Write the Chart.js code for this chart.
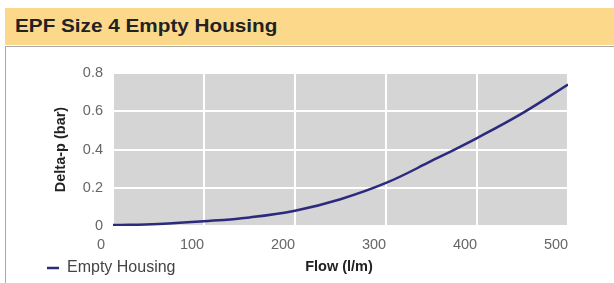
<!DOCTYPE html>
<html>
<head>
<meta charset="utf-8">
<script src="https://cdn.jsdelivr.net/npm/chart.js@4"></script>
<style>
  body { margin: 0; background: #fff; width: 614px; height: 283px; overflow: hidden; position: relative; font-family: "Liberation Sans", Arial, sans-serif; }
  #titleBar { position: absolute; left: 5px; top: 8px; width: 609px; height: 37px; background: #fcd98a; }
  #titleBar span { position: absolute; left: 10px; top: 7px; font-size: 19px; font-weight: bold; color: #222; transform: scaleX(1.09); transform-origin: left center; white-space: nowrap; }
  #panel { position: absolute; left: 5px; top: 46px; width: 620px; height: 250px; border: 1px solid #a9a9a9; background: #fff; }
  #wrap { position: absolute; left: 6px; top: 51px; width: 608px; height: 235px; }
</style>
</head>
<body>
<div id="titleBar"><span>EPF Size 4 Empty Housing</span></div>
<div id="panel"></div>
<div id="wrap"><canvas id="lineGraph"></canvas></div>
<script>
// flow vs pressure drop
let flowValues = [0, 50, 100, 150, 200, 250, 300, 350, 400, 450, 500];
let deltaPValues = [0.005, 0.011, 0.025, 0.045, 0.08, 0.14, 0.225, 0.34, 0.46, 0.59, 0.74];
let xTickValues = [0, 100, 200, 300, 400, 500];
let yTickValues = [0, 0.2, 0.4, 0.6, 0.8];
let seriesName = 'Empty Housing';

const fontFamily = '"Liberation Sans", Arial, sans-serif';

const plotBackground = {
    id: 'plotBackground',
    afterLayout(chart) {
        // push the legend in from the left edge
        chart.legend.left += 37;
    },
    beforeDraw(chart) {
        const a = chart.chartArea;
        const ctx = chart.ctx;
        ctx.save();
        ctx.fillStyle = '#d5d5d5';
        ctx.fillRect(a.left, a.top, a.right - a.left, a.bottom - a.top);
        ctx.restore();
    },
    afterDraw(chart) {
        // x title sits on the same row as the legend item
        const ctx = chart.ctx;
        const hb = chart.legend.legendHitBoxes[0];
        ctx.save();
        ctx.font = 'bold 14.5px ' + fontFamily;
        ctx.fillStyle = '#222';
        ctx.textAlign = 'center';
        ctx.textBaseline = 'middle';
        ctx.fillText('Flow (l/m)', 339 - 6, hb.top + hb.height / 2 - 1);
        ctx.restore();
    }
};

const lineCtx = document.getElementById('lineGraph').getContext('2d');
let lineChartInst = new Chart(lineCtx, {
    type: 'line',
    data: {
        datasets: [{
            label: seriesName,
            data: flowValues.map((f, i) => ({ x: f, y: deltaPValues[i] })),
            borderColor: '#2c2a7c',
            backgroundColor: '#2c2a7c',
            borderWidth: 2.5,
            pointRadius: 0,
            fill: false,
            tension: 0.4
        }]
    },
    options: {
        responsive: true,
        maintainAspectRatio: false,
        animation: false,
        layout: { padding: { left: 0, right: 46, top: 22, bottom: 0 } },
        plugins: {
            tooltip: { enabled: false },
            legend: {
                position: 'bottom',
                align: 'start',
                labels: {
                    usePointStyle: true,
                    pointStyle: 'line',
                    pointStyleWidth: 12,
                    boxHeight: 12,
                    padding: 4,
                    color: '#444',
                    font: { family: fontFamily, size: 16 }
                }
            }
        },
        scales: {
            x: {
                type: 'linear',
                min: 0,
                max: 500,
                afterBuildTicks: s => { s.ticks = xTickValues.map(v => ({ value: v })); },
                afterFit: s => { s.height = 30; },
                grid: { color: '#ffffff', lineWidth: 2, drawTicks: false },
                border: { display: false },
                ticks: {
                    color: '#666',
                    padding: 10,
                    labelOffset: -12,
                    font: { family: fontFamily, size: 14.5 }
                }
            },
            y: {
                min: 0,
                max: 0.8,
                afterBuildTicks: s => { s.ticks = yTickValues.map(v => ({ value: v })); },
                grid: { color: '#ffffff', lineWidth: 2, drawTicks: false },
                border: { display: false },
                title: {
                    display: true,
                    text: 'Delta-p (bar)',
                    color: '#222',
                    padding: { top: 46, bottom: 0 },
                    font: { family: fontFamily, size: 14.5, weight: 'bold' }
                },
                ticks: {
                    color: '#666',
                    padding: 10,
                    font: { family: fontFamily, size: 14.5 }
                },
                afterFit: s => { s.width = 107; }
            }
        }
    },
    plugins: [plotBackground]
});
</script>
</body>
</html>
